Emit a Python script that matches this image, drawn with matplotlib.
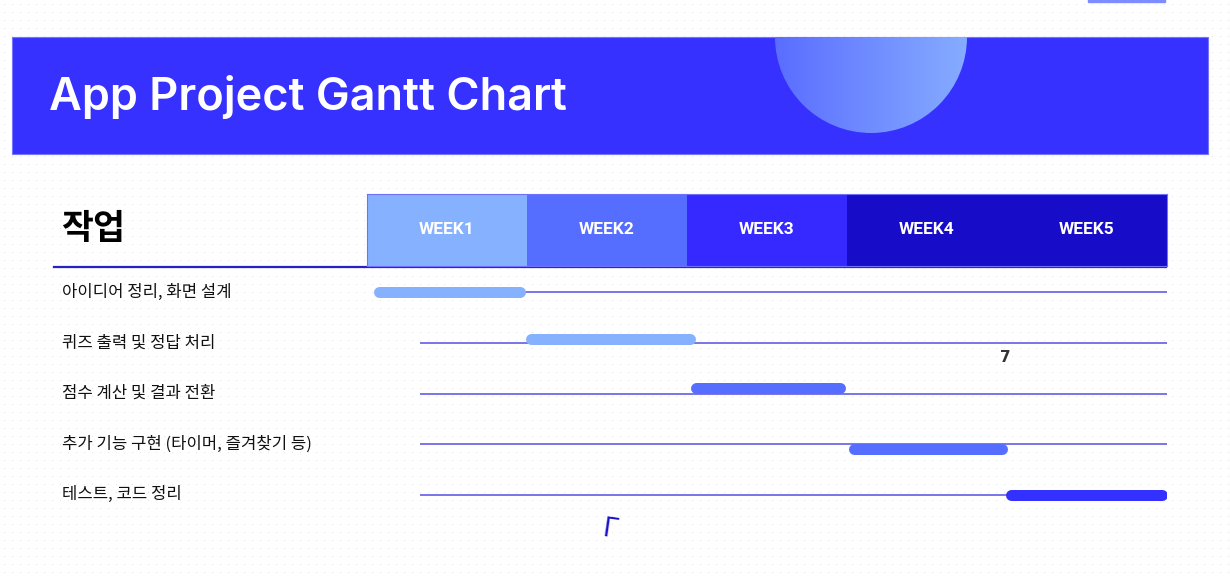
import matplotlib.pyplot as plt
import matplotlib.transforms as mtransforms
from matplotlib.patches import Rectangle, Wedge
from matplotlib.colors import LinearSegmentedColormap
import numpy as np

W, H = 1230, 577

title = "App Project Gantt Chart"
task_header = "작업"
tasks = ["아이디어 정리, 화면 설계",
         "퀴즈 출력 및 정답 처리",
         "점수 계산 및 결과 전환",
         "추가 기능 구현 (타이머, 즐겨찾기 등)",
         "테스트, 코드 정리"]
# week units, 0 = start of WEEK1
task_start = [0.04, 0.99, 2.02, 3.01, 3.99]
task_end = [0.99, 2.05, 2.99, 4.00, 5.00]
task_colors = ["#86B1FF", "#86B1FF", "#566EFF", "#566EFF", "#3430FF"]
bar_shift = [0.0, -0.08, -0.11, 0.09, 0.0]

weeks = ["WEEK1", "WEEK2", "WEEK3", "WEEK4", "WEEK5"]
week_colors = ["#86B1FF", "#566EFF", "#3529FF", "#170CC8", "#170CC8"]

KR = ["Noto Sans CJK KR", "DejaVu Sans"]


def px_rect(x0, y0, x1, y1):
    return [x0 / W, 1 - y1 / H, (x1 - x0) / W, (y1 - y0) / H]


fig = plt.figure(figsize=(W / 100, H / 100), dpi=100)
fig.patch.set_facecolor("white")

# background / decoration layer in pixel units
bg = fig.add_axes([0, 0, 1, 1], zorder=0)
bg.set_xlim(0, W)
bg.set_ylim(H, 0)
bg.axis("off")

gx, gy = np.meshgrid(np.arange(4, W, 8), np.arange(4, H, 8))
bg.scatter(gx.ravel(), gy.ravel(), s=1.0, color="#e9e9ee", linewidths=0, zorder=0)

bg.add_patch(Rectangle((1088, -2), 77, 4, color="#7d8cff", zorder=2))

bg.add_patch(Rectangle((12, 37), 1196, 117, facecolor="#3631FF",
                       edgecolor="#7474ff", lw=0.8, zorder=2))
grad = LinearSegmentedColormap.from_list("g", ["#5A6DFF", "#86ACFF"])
img = bg.imshow(np.linspace(0, 1, 256)[None, :], cmap=grad, aspect="auto",
                extent=(775, 967, 133, 37), zorder=3)
half = Wedge((871, 37), 96, 0, 180, transform=bg.transData)
img.set_clip_path(half)
bg.set_xlim(0, W)
bg.set_ylim(H, 0)

bg.text(49, 110, title, color="white", fontsize=32.5, fontfamily="Inter",
        fontweight="semibold", va="baseline", ha="left", zorder=4)

bg.text(61, 228, task_header, fontsize=25, fontweight="bold", fontfamily=KR,
        va="center", ha="left", color="black", zorder=4)
bg.plot([54, 1166], [267, 267], color="#2a1ec9", lw=1.6, zorder=4)

# stray hand-drawn marks
bg.text(1005, 357, "7", fontsize=11, fontfamily="DejaVu Sans", fontweight="bold",
        color="#333333", ha="center", va="center", zorder=4)
bg.text(610, 530, "Γ", fontsize=19, fontfamily="DejaVu Sans", color="#1a12c8",
        ha="center", va="center", rotation=-8, zorder=4)

# week header
hx = fig.add_axes(px_rect(367, 194, 1167, 266), zorder=2)
hx.bar(np.arange(len(weeks)), 1, width=1, align="edge", color=week_colors,
       linewidth=0)
for i, wk in enumerate(weeks):
    hx.text(i + 0.5, 0.5, wk, color="white", fontsize=12.5,
            fontfamily="Roboto", fontweight="bold", ha="center", va="center")
hx.set_xlim(0, len(weeks))
hx.set_ylim(0, 1)
hx.set_xticks([])
hx.set_yticks([])
for s in hx.spines.values():
    s.set_color("#7070ff")
    s.set_linewidth(0.8)

# gantt rows
ax = fig.add_axes(px_rect(367, 267, 1167, 520), zorder=3)
ax.patch.set_alpha(0)
ax.set_xlim(0, len(weeks))
ax.set_ylim(len(tasks) - 0.5, -0.5)
ax.axis("off")

rows = np.arange(len(tasks))
ax.hlines(rows, 0.33, len(weeks), color="#5550e4", lw=1.1, zorder=1)

bar_px = 11
cap = (bar_px / 2) / 160
for i in rows:
    ax.plot([task_start[i] + cap, task_end[i] - cap],
            [i + bar_shift[i]] * 2, color=task_colors[i],
            lw=bar_px * 0.72, solid_capstyle="round", zorder=2)

lab_tr = mtransforms.blended_transform_factory(bg.transData, ax.transData)
for i, t in enumerate(tasks):
    ax.text(62, i, t, transform=lab_tr, fontsize=12, fontfamily=KR,
            fontweight="medium", va="center", ha="left", color="#111111")

fig.savefig("out.png", dpi=100)
